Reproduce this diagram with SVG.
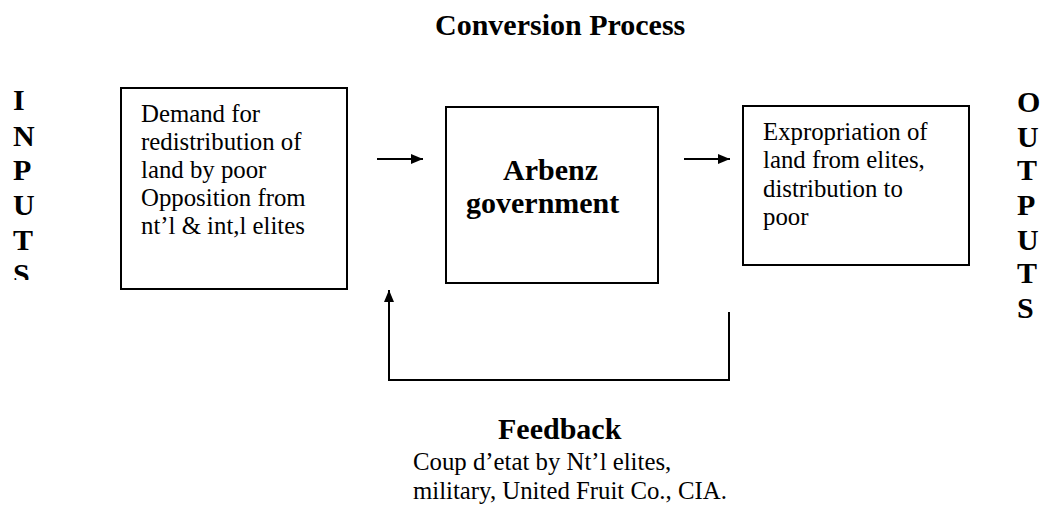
<svg xmlns="http://www.w3.org/2000/svg" width="1054" height="516" viewBox="0 0 1054 516">
  <style>
    .box { fill: #ffffff; stroke: #000000; stroke-width: 2; }
    .txt { font-family: "Liberation Serif", "Times New Roman", serif; font-size: 24.8px; fill: #000000; }
    .bold { font-family: "Liberation Serif", "Times New Roman", serif; font-size: 30px; font-weight: bold; fill: #000000; }
    .edge { fill: none; stroke: #000000; stroke-width: 2; }
  </style>
  <defs>
    <marker id="arrow" viewBox="0 0 12 10" refX="12" refY="5" markerWidth="12" markerHeight="10" markerUnits="userSpaceOnUse" orient="auto">
      <path d="M0,0 L12,5 L0,10 Z" fill="#000000"/>
    </marker>
    <clipPath id="inputsClip">
      <rect x="0" y="80" width="60" height="200"/>
    </clipPath>
  </defs>

  <rect width="1054" height="516" fill="#ffffff"/>

  <!-- heading -->
  <g id="title">
    <text class="bold" x="435" y="35">Conversion Process</text>
  </g>

  <!-- vertical side labels -->
  <g id="inputs" clip-path="url(#inputsClip)">
    <text class="bold" x="13" y="110">I</text>
    <text class="bold" x="13" y="146">N</text>
    <text class="bold" x="13" y="180">P</text>
    <text class="bold" x="13" y="215">U</text>
    <text class="bold" x="13" y="250">T</text>
    <text class="bold" x="13" y="284">S</text>
  </g>
  <g id="outputs">
    <text class="bold" x="1017" y="112">O</text>
    <text class="bold" x="1017" y="147">U</text>
    <text class="bold" x="1017" y="180">T</text>
    <text class="bold" x="1017" y="215">P</text>
    <text class="bold" x="1017" y="250">U</text>
    <text class="bold" x="1017" y="283">T</text>
    <text class="bold" x="1017" y="318">S</text>
  </g>

  <!-- input node -->
  <g id="demand">
    <rect class="box" x="121" y="88" width="226" height="201"/>
    <text class="txt" x="141" y="122">Demand for</text>
    <text class="txt" x="141" y="150">redistribution of</text>
    <text class="txt" x="141" y="178">land by poor</text>
    <text class="txt" x="141" y="206">Opposition from</text>
    <text class="txt" x="141" y="234">nt’l &amp; int,l elites</text>
  </g>

  <!-- conversion node -->
  <g id="government">
    <rect class="box" x="446" y="107" width="212" height="176"/>
    <text class="bold" x="503" y="180">Arbenz</text>
    <text class="bold" x="466" y="213">government</text>
  </g>

  <!-- output node -->
  <g id="expropriation">
    <rect class="box" x="743" y="106" width="226" height="159"/>
    <text class="txt" x="763" y="140">Expropriation of</text>
    <text class="txt" x="763" y="168">land from elites,</text>
    <text class="txt" x="763" y="196.5">distribution to</text>
    <text class="txt" x="763" y="224.5">poor</text>
  </g>

  <!-- connectors -->
  <g id="connectors">
    <line class="edge" x1="377" y1="159" x2="423" y2="159" marker-end="url(#arrow)"/>
    <line class="edge" x1="684" y1="159" x2="730" y2="159" marker-end="url(#arrow)"/>
    <path class="edge" d="M729,312 V380 H389 V290" marker-end="url(#arrow)"/>
  </g>

  <!-- feedback label -->
  <g id="feedback">
    <text class="bold" x="498" y="439">Feedback</text>
    <text class="txt" x="413" y="470">Coup d’etat by Nt’l elites,</text>
    <text class="txt" x="413" y="499">military, United Fruit Co., CIA.</text>
  </g>
</svg>
